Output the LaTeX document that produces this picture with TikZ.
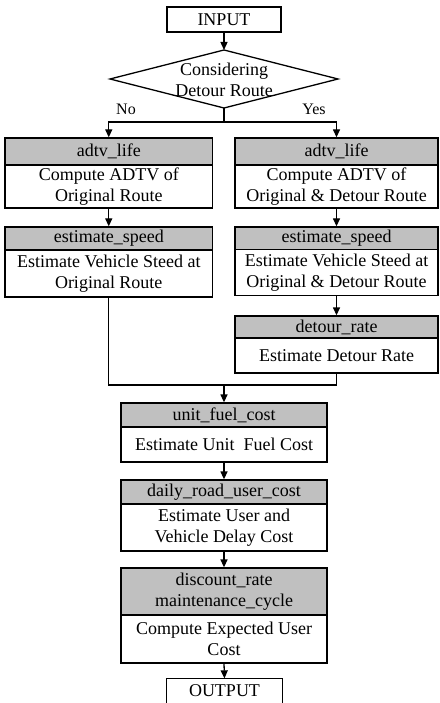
\documentclass[tikz,border=0pt]{standalone}
\usepackage{fontspec}
\setmainfont{Liberation Serif}
\usetikzlibrary{arrows.meta}
\definecolor{hdrgray}{RGB}{192,192,192}
\begin{document}
\begin{tikzpicture}[x=1pt,y=-1pt,
  font=\fontsize{18}{21}\selectfont, line width=1.3pt,
  box/.style={draw, rectangle, inner sep=0pt, align=center},
  hdr/.style={box, fill=hdrgray},
  lbl/.style={inner sep=0pt, font=\fontsize{16}{19}\selectfont},
  arr/.style={-{Triangle[length=8pt,width=7pt]}}]
\useasboundingbox (0,0) rectangle (439,703);
\clip (0,0) rectangle (439,703);

% input and decision
\node[box, minimum width=114pt, minimum height=25pt] (input) at (224,19.5) {INPUT};
\coordinate (dT) at (224,50);
\coordinate (dB) at (224,108);
\coordinate (dL) at (110,79);
\coordinate (dR) at (338,79);
\draw (dT) -- (dR) -- (dB) -- (dL) -- cycle;
\node[align=center, inner sep=0pt] (dtext) at (224,80) {Considering\\Detour Route};
\node[lbl] (no) at (126,109) {No};
\node[lbl] (yes) at (314,109) {Yes};

% left column
\node[hdr, minimum width=207.5pt, minimum height=27pt] (la1) at (108.75,151.5) {adtv\_life};
\node[box, minimum width=207.5pt, minimum height=43pt] (lb1) at (108.75,186.5) {Compute ADTV of\\Original Route};
\node[hdr, minimum width=207.5pt, minimum height=22.5pt] (la2) at (108.75,238.25) {estimate\_speed};
\node[box, minimum width=207.5pt, minimum height=47pt] (lb2) at (108.75,273.5) {Estimate Vehicle Steed at\\Original Route};

% right column
\node[hdr, minimum width=203pt, minimum height=27pt] (ra1) at (336.5,151.5) {adtv\_life};
\node[box, minimum width=203pt, minimum height=43pt] (rb1) at (336.5,186.5) {Compute ADTV of\\Original \& Detour Route};
\node[hdr, minimum width=203pt, minimum height=22.5pt] (ra2) at (336.5,238.25) {estimate\_speed};
\node[box, minimum width=203pt, minimum height=46pt] (rb2) at (336.5,272.5) {Estimate Vehicle Steed at\\Original \& Detour Route};
\node[hdr, minimum width=203pt, minimum height=22pt] (ra3) at (336.5,327) {detour\_rate};
\node[box, minimum width=203pt, minimum height=35pt] (rb3) at (336.5,355.5) {Estimate Detour Rate};

% common column
\node[hdr, minimum width=206pt, minimum height=24pt] (ua) at (224,415) {unit\_fuel\_cost};
\node[box, minimum width=206pt, minimum height=35pt] (ub) at (224,444.5) {Estimate Unit\ \ Fuel Cost};
\node[hdr, minimum width=206pt, minimum height=24pt] (da) at (224,492) {daily\_road\_user\_cost};
\node[box, minimum width=206pt, minimum height=47pt] (db) at (224,527.5) {Estimate User and\\Vehicle Delay Cost};
\node[hdr, minimum width=206pt, minimum height=47pt] (ca) at (224,591.5) {discount\_rate\\maintenance\_cycle};
\node[box, minimum width=206pt, minimum height=48pt] (cb) at (224,639) {Compute Expected User\\Cost};
\node[inner sep=0pt, minimum width=115pt, minimum height=24pt] (out) at (224.5,691) {OUTPUT};
\draw ([yshift=-8pt]out.south west) -- (out.north west) -- (out.north east) -- ([yshift=-8pt]out.south east);

% connectors
\draw[arr] (input) -- (dT);
\coordinate (split) at (224,122);
\draw (dB) -- (split);
\draw[arr] (split) -| (la1.north);
\draw[arr] (split) -| (ra1.north);
\draw[arr] (lb1.south) -- (la2.north);
\draw[arr] (rb1.south) -- (ra2.north);
\draw[arr] (rb2.south) -- (ra3.north);
\coordinate (merge) at (224,385);
\draw (lb2.south) |- (merge);
\draw (rb3.south) |- (merge);
\draw[arr] (merge) -- (ua.north);
\draw[arr] (ub.south) -- (da.north);
\draw[arr] (db.south) -- (ca.north);
\draw[arr] (cb.south) -- (out.north);
\end{tikzpicture}
\end{document}
